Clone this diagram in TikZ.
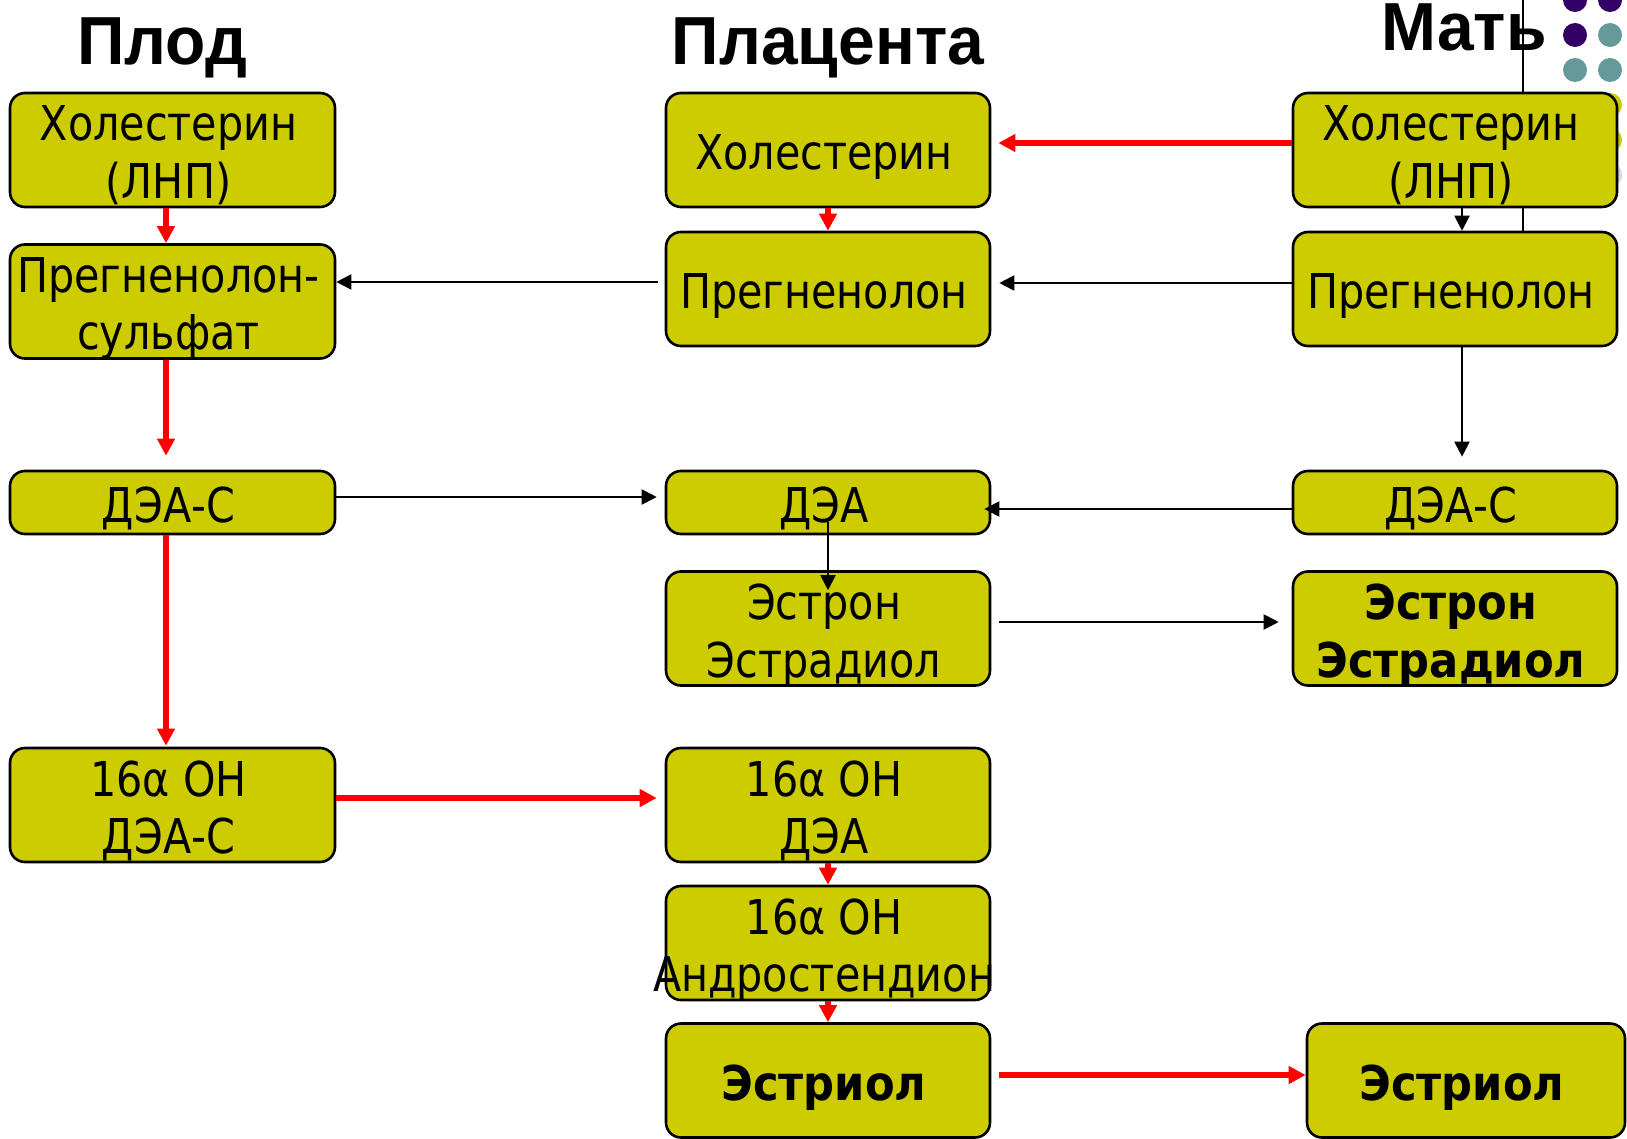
\documentclass[tikz,border=0pt]{standalone}
\usepackage{fontspec}
\setmainfont{DejaVu Sans}[FakeStretch=0.86, BoldFeatures={FakeStretch=0.90}]
\newfontfamily\headfont{Liberation Sans}[FakeStretch=0.97]
\usetikzlibrary{arrows.meta,calc}
\definecolor{boxfill}{RGB}{204,204,0}
\definecolor{dotpurple}{RGB}{51,0,102}
\definecolor{dotteal}{RGB}{102,153,153}
\definecolor{dotlav}{RGB}{212,212,236}
\definecolor{arrred}{RGB}{255,0,0}
\begin{document}
\begin{tikzpicture}[x=0.5pt,y=-0.5pt,
  box/.style={draw=black, line width=1.3pt, fill=boxfill, rounded corners=7.5pt, inner sep=0pt},
  txt/.style={inner sep=0pt, align=center, text depth=0pt,
    font=\fontsize{24}{28.75}\selectfont},
  boldtxt/.style={txt, font=\fontsize{24}{28.75}\selectfont\bfseries},
  lw/.style={minimum width=162.5pt},
  cw/.style={minimum width=162pt},
  tallh/.style={minimum height=57pt},
  lowh/.style={minimum height=31.5pt},
  head/.style={inner sep=0pt, anchor=base, font=\headfont\bfseries\fontsize{34}{40}\selectfont},
  redarrow/.style={draw=arrred, line width=3pt, -{Triangle[length=8.5pt,width=8.5pt]}},
  blkarrow/.style={draw=black, line width=1pt, -{Triangle[length=7.5pt,width=7.5pt]}}
]
\fill[white] (0,0) rectangle (1627,1139);
\useasboundingbox (0,0) rectangle (1627,1139);

% decorative dots and line
\foreach \cx/\cy/\col in {1575/0/dotpurple, 1610/0/dotpurple, 1575/35/dotpurple,
  1610/35/dotteal, 1575/70/dotteal, 1610/70/dotteal, 1610/105/boxfill,
  1610/140/boxfill, 1610/175/dotlav}
  \fill[\col] (\cx,\cy) circle[radius=12];
\draw[line width=1pt] (1523,0) -- (1523,232);

% headings
\node[head] (hplod) at (162,65) {Плод};
\node[head] (hplac) at (828,65) {Плацента};
\node[head] (hmat) at (1464,51) {Мать};

% left column (fetus)
\node[box, lw, tallh] (l1) at (172.5,150) {};
\node[box, lw, tallh] (l2) at (172.5,301.5) {};
\node[box, lw, lowh] (l3) at (172.5,502.5) {};
\node[box, lw, tallh] (l4) at (172.5,805) {};
\node[txt] (l1t) at ($(l1.center)+(-4,2)$) {Холестерин\\(ЛНП)};
\node[txt] (l2t) at ($(l2.center)+(-4,2)$) {Прегненолон-\\сульфат};
\node[txt] (l3t) at ($(l3.center)+(-4,2)$) {ДЭА-С};
\node[txt] (l4t) at ($(l4.center)+(-4,2)$) {16α ОН\\ДЭА-С};

% center column (placenta)
\node[box, cw, tallh] (c1) at (828,150) {};
\node[box, cw, tallh] (c2) at (828,289) {};
\node[box, cw, lowh] (c3) at (828,502.5) {};
\node[box, cw, tallh] (c4) at (828,628.5) {};
\node[box, cw, tallh] (c5) at (828,805) {};
\node[box, cw, tallh] (c6) at (828,943) {};
\node[box, cw, tallh] (c7) at (828,1080.5) {};
\node[txt] (c1t) at ($(c1.center)+(-4,2)$) {Холестерин};
\node[txt] (c2t) at ($(c2.center)+(-4,2)$) {Прегненолон};
\node[txt] (c3t) at ($(c3.center)+(-4,2)$) {ДЭА};
\node[txt] (c4t) at ($(c4.center)+(-4,2)$) {Эстрон\\Эстрадиол};
\node[txt] (c5t) at ($(c5.center)+(-4,2)$) {16α ОН\\ДЭА};
\node[txt] (c6t) at ($(c6.center)+(-4,2)$) {16α ОН\\Андростендион};
\node[boldtxt] (c7t) at ($(c7.center)+(-4,2)$) {Эстриол};

% right column (mother)
\node[box, cw, tallh] (r1) at (1455,150) {};
\node[box, cw, tallh] (r2) at (1455,289) {};
\node[box, cw, lowh] (r3) at (1455,502.5) {};
\node[box, cw, tallh] (r4) at (1455,628.5) {};
\node[box, minimum width=159pt, tallh] (r5) at (1466,1080.5) {};
\node[txt] (r1t) at ($(r1.center)+(-4,2)$) {Холестерин\\(ЛНП)};
\node[txt] (r2t) at ($(r2.center)+(-4,2)$) {Прегненолон};
\node[txt] (r3t) at ($(r3.center)+(-4,2)$) {ДЭА-С};
\node[boldtxt] (r4t) at ($(r4.center)+(-4,2)$) {Эстрон\\Эстрадиол};
\node[boldtxt] (r5t) at ($(r5.center)+(-4,2)$) {Эстриол};

% red arrows
\draw[redarrow] ($(l1.south)+(-6.5,0)$) -- ($(l2.north)+(-6.5,0)$);
\draw[redarrow] ($(l2.south)+(-6.5,0)$) -- ($(l3.north)+(-6.5,-14)$);
\draw[redarrow] ($(l3.south)+(-6.5,0)$) -- ($(l4.north)+(-6.5,-1)$);
\draw[redarrow] ($(l4.east)+(0,-7)$) -- ($(c5.west)+(-8,-7)$);
\draw[redarrow] ($(r1.west)+(0,-7)$) -- ($(c1.east)+(7,-7)$);
\draw[redarrow] (c1.south) -- (c2.north);
\draw[redarrow] (c5.south) -- (c6.north);
\draw[redarrow] (c6.south) -- (c7.north);
\draw[redarrow] ($(c7.east)+(8,-5.5)$) -- ($(r5.west)+(0,-5.5)$);

% black arrows
\draw[blkarrow] ($(c2.west)+(-7,-7)$) -- ($(l2.east)+(0,-19.5)$);
\draw[blkarrow] ($(r2.west)+(0,-6)$) -- ($(c2.east)+(8,-6)$);
\draw[blkarrow] ($(r1.south)+(7,0)$) -- ($(r2.north)+(7,0)$);
\draw[blkarrow] ($(r2.south)+(7,0)$) -- ($(r3.north)+(7,-13)$);
\draw[blkarrow] ($(l3.east)+(0,-5.5)$) -- ($(c3.west)+(-8,-5.5)$);
\draw[blkarrow] ($(r3.west)+(0,6.5)$) -- ($(c3.east)+(-7,6.5)$);
\draw[blkarrow] ($(c3.center)+(0,19.5)$) -- ($(c4.north)+(0,20)$);
\draw[blkarrow] ($(c4.east)+(8,-6.5)$) -- ($(r4.west)+(-13,-6.5)$);
\end{tikzpicture}
\end{document}
